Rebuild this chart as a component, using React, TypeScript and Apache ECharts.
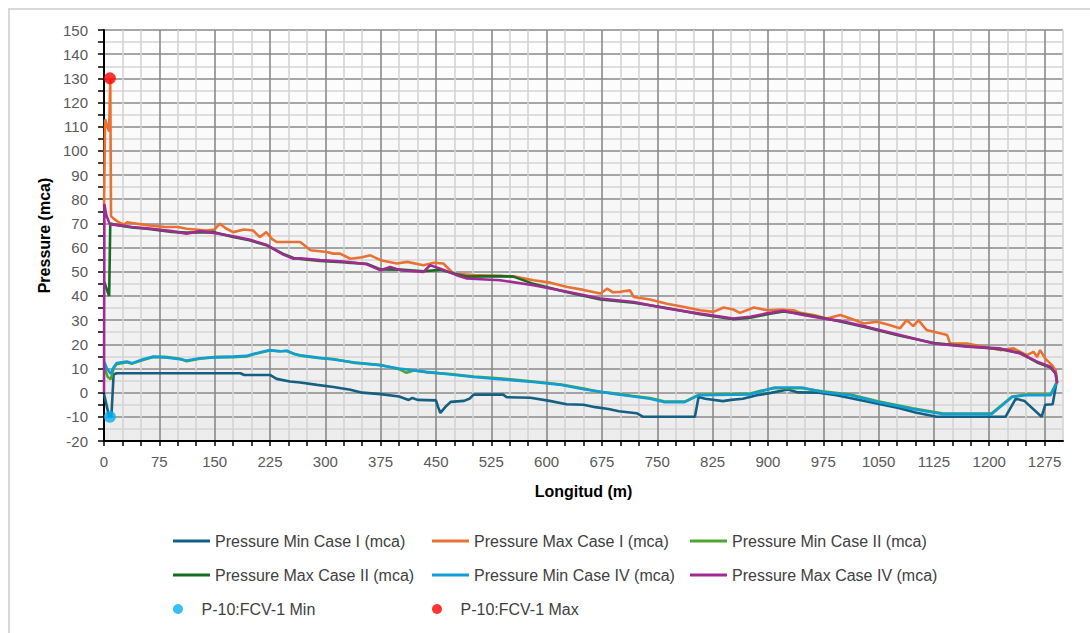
import React, { useEffect, useRef } from "react";
import * as echarts from "echarts";

// ---- Data (x = Longitud m, y = Pressure mca) ----
const minCaseI: number[][] = [
  [0, -0.5], [7, -10], [10, -10], [13, 7.5], [17, 8], [60, 8], [120, 8], [185, 8], [190, 7.3], [225, 7.3],
  [234, 5.7], [252, 4.6], [266, 4.2], [289, 3.2], [311, 2.3], [334, 1.2], [350, 0], [375, -0.6], [400, -1.6],
  [413, -3], [418, -2.2], [425, -3], [450, -3.2], [453, -6], [456, -8.4], [464, -5.5], [470, -3.8], [488, -3.4],
  [496, -2.4], [501, -0.8], [541, -0.8], [546, -1.9], [578, -2.1], [604, -3.4], [627, -4.8], [650, -5],
  [666, -6], [684, -6.8], [698, -7.7], [722, -8.5], [725, -9], [731, -10], [801, -10], [806, -1.8], [815, -2.5],
  [839, -3.5], [850, -3], [866, -2.5], [885, -1.1], [904, -0.1], [927, 1.3], [941, 0.1], [969, 0], [993, -1.1],
  [1016, -2.5], [1054, -4.9], [1077, -6.3], [1100, -8.2], [1129, -10], [1222, -10], [1236, -2.5], [1248, -3.5],
  [1271, -10], [1276, -5], [1286, -4.8], [1291, 4],
];

const maxCaseI: number[][] = [
  [0, 77], [1.5, 113], [7, 108], [8.5, 130], [9.5, 73], [13, 72], [20, 70.5], [27, 69.5], [32, 70.5], [38, 70.2],
  [61, 69.2], [83, 68.5], [100, 68.5], [112, 67.8], [139, 67.1], [150, 67.5], [157, 69.9], [165, 68], [175, 66.4],
  [190, 67.5], [202, 67.1], [211, 64.3], [220, 66.4], [228, 63.5], [234, 62.3], [266, 62.3], [280, 58.9],
  [302, 58.2], [311, 57.5], [320, 57.5], [334, 55.4], [350, 56], [361, 56.8], [375, 54.8], [397, 53.4],
  [411, 54.1], [433, 52.7], [447, 53.7], [460, 53.4], [474, 49.2], [501, 48.6], [555, 48.1], [582, 46.5],
  [605, 45.5], [628, 43.7], [650, 42.5], [673, 41], [682, 43], [690, 41.5], [700, 41.7], [713, 42.3], [718, 39.6],
  [740, 38.5], [763, 36.8], [785, 35.5], [808, 34.1], [826, 33.4], [840, 35.2], [853, 34.4], [862, 33],
  [881, 35.2], [899, 34.1], [917, 34.4], [935, 34.1], [944, 33], [962, 32.1], [980, 30.7], [998, 32.1],
  [1012, 30.7], [1030, 28.6], [1048, 29.3], [1061, 28.3], [1079, 26.6], [1088, 30], [1097, 27.5], [1104, 30],
  [1115, 25.9], [1143, 23.8], [1147, 20.3], [1170, 20.3], [1192, 19], [1215, 17.6], [1233, 18.3], [1251, 15.5],
  [1260, 16.9], [1265, 14.8], [1269, 17.6], [1276, 14.1], [1285, 11.4], [1290, 9.3], [1292, 4.5],
];

const minCaseII: number[][] = [
  [0, 11], [5, 6.5], [9, 5.5], [13, 10], [17, 11.8], [31, 12.6], [38, 12], [53, 13.5], [67, 14.7], [83, 14.8],
  [103, 14], [112, 13], [130, 14], [152, 14.8], [175, 14.7], [193, 15], [202, 15.8], [216, 16.8], [225, 17.4],
  [238, 17.2], [248, 17.1], [257, 16.2], [266, 15.3], [290, 14.3], [311, 13.9], [340, 12.3], [374, 11.5],
  [400, 9.7], [410, 8.2], [420, 9.2], [437, 8.4], [470, 7.7], [501, 6.7], [540, 5.8], [582, 4.6], [620, 3.4],
  [652, 1.6], [672, 0.3], [689, -0.2], [715, -1.3], [740, -2.2], [759, -3.6], [787, -3.7], [806, -0.9],
  [876, -0.4], [890, 0.8], [909, 1.8], [946, 1.8], [974, 0.6], [1012, -0.8], [1049, -3.6], [1096, -6.5],
  [1138, -8.6], [1203, -8.6], [1231, -1.6], [1250, -0.8], [1283, -0.8], [1291, 4],
];

const maxCaseII: number[][] = [
  [0, 46], [7, 40], [8.5, 70], [20, 69.1], [38, 68.3], [61, 67.7], [92, 66.5], [112, 66.2], [130, 66.3],
  [148, 66.4], [175, 64.4], [197, 63], [220, 61], [243, 57.4], [257, 55.7], [266, 55.3], [293, 54.5],
  [329, 53.8], [356, 53.3], [375, 51], [402, 50.9], [433, 50.2], [456, 50.8], [478, 49], [492, 48], [537, 48.2],
  [555, 48], [582, 45], [628, 41.5], [673, 38.5], [718, 37.2], [763, 35], [808, 32.4], [853, 30.4], [876, 31],
  [899, 32.4], [921, 33.6], [944, 32.6], [975, 30.9], [998, 29.4], [1034, 27], [1079, 23.5], [1125, 20.5],
  [1170, 19.2], [1215, 18], [1242, 16.4], [1265, 12.5], [1283, 10.4], [1290, 7.8], [1292, 4],
];

const minCaseIV: number[][] = [
  [0, 13], [4, 10], [9, 7.8], [13, 10.5], [17, 12.2], [31, 12.9], [38, 12.2], [53, 13.8], [67, 14.9], [83, 14.6],
  [103, 13.8], [112, 13.3], [130, 14.2], [152, 14.6], [175, 14.9], [193, 15.2], [202, 16], [216, 17], [225, 17.6],
  [238, 17], [248, 17.4], [257, 16], [266, 15.5], [290, 14.5], [311, 13.7], [340, 12.5], [374, 11.3], [400, 10],
  [437, 8.6], [470, 7.5], [501, 6.5], [540, 5.5], [582, 4.4], [620, 3.2], [652, 1.3], [672, 0.5], [689, -0.4],
  [715, -1.5], [740, -2.5], [759, -3.9], [787, -3.9], [806, -1.1], [876, -0.7], [890, 0.5], [909, 2.1],
  [946, 2.1], [974, 0.3], [1012, -1.1], [1049, -3.9], [1096, -6.8], [1138, -8.9], [1203, -8.9], [1231, -1.8],
  [1250, -1.1], [1283, -1.1], [1291, 3.8],
];

const maxCaseIV: number[][] = [
  [0, 0], [0.5, 78], [3, 73.5], [8, 69.6], [20, 69.3], [38, 68.5], [61, 67.9], [92, 66.8], [112, 65.7],
  [130, 66.8], [148, 66.1], [175, 64.7], [197, 63.3], [220, 61.2], [243, 57.1], [257, 55.4], [266, 55.6],
  [293, 54.8], [329, 54.1], [356, 53.1], [375, 50.6], [388, 52], [402, 50.6], [433, 49.9], [442, 52.7],
  [456, 51.3], [478, 48.6], [492, 47.2], [537, 46.5], [582, 44.4], [628, 41.7], [673, 38.9], [718, 37.5],
  [763, 34.8], [808, 32.7], [853, 30.7], [876, 31.4], [899, 32.8], [921, 33.9], [944, 32.3], [975, 30.7],
  [998, 29.7], [1034, 27.2], [1079, 23.8], [1125, 20.3], [1170, 19], [1215, 18.3], [1242, 16.2], [1265, 12.8],
  [1283, 10.7], [1290, 8], [1292, 3.8],
];

const fcvMin: number[][] = [[8, -10]];
const fcvMax: number[][] = [[8, 130]];

const seriesNames = [
  "Pressure Min Case I (mca)",
  "Pressure Max Case I (mca)",
  "Pressure Min Case II (mca)",
  "Pressure Max Case II (mca)",
  "Pressure Min Case IV (mca)",
  "Pressure Max Case IV (mca)",
  "P-10:FCV-1 Min",
  "P-10:FCV-1 Max",
];
const seriesColors = ["#156082", "#E97132", "#4EA72E", "#196B24", "#0F9ED5", "#A02B93", "#00B0F0", "#FF0000"];

const X_MIN = 0, X_MAX = 1300, X_STEP = 25, X_LABEL_STEP = 75;
const Y_MIN = -20, Y_MAX = 150, Y_STEP = 5, Y_LABEL_STEP = 10;

export default function App() {
  const ref = useRef<HTMLDivElement>(null);

  useEffect(() => {
    if (!ref.current) return;
    const chart = echarts.init(ref.current, null, { renderer: "svg" });
    const font = "'Liberation Sans', Arial, sans-serif";
    const lineData = [minCaseI, maxCaseI, minCaseII, maxCaseII, minCaseIV, maxCaseIV];

    const legendPos: { left: number; top: number }[] = [
      { left: 173, top: 533 }, { left: 432, top: 533 }, { left: 690, top: 533 },
      { left: 173, top: 567 }, { left: 432, top: 567 }, { left: 690, top: 567 },
      { left: 173, top: 601 }, { left: 432, top: 601 },
    ];

    const option: any = {
      animation: false,
      backgroundColor: "#ffffff",
      textStyle: { fontFamily: font },
      graphic: [
        {
          type: "rect",
          silent: true,
          z: -10,
          shape: { x: 9, y: 9, width: 1300, height: 800 },
          style: { fill: "none", stroke: "#d9d9d9", lineWidth: 2 },
        },
      ],
      grid: {
        left: 104,
        top: 30,
        right: 27,
        bottom: 192,
        show: true,
        borderWidth: 0,
        outerBoundsMode: "none",
        backgroundColor: new echarts.graphic.LinearGradient(0, 0, 0, 1, [
          { offset: 0, color: "#ffffff" },
          { offset: 1, color: "#ececec" },
        ]),
      },
      legend: seriesNames.map((n, i) => ({
        data: [n],
        left: legendPos[i].left,
        top: legendPos[i].top,
        itemWidth: 37,
        itemHeight: i >= 6 ? 10 : 3,
        icon: i >= 6 ? "circle" : "rect",
        selectedMode: false,
        padding: 0,
        textStyle: { fontSize: 16, color: "#404040", fontFamily: font },
      })),
      xAxis: {
        type: "value",
        min: X_MIN,
        max: X_MAX,
        interval: X_STEP,
        name: "Longitud (m)",
        nameLocation: "middle",
        nameGap: 42,
        nameTextStyle: { fontSize: 16, fontWeight: "bold", color: "#000000", fontFamily: font },
        axisLine: { show: true, onZero: false, lineStyle: { color: "#000000", width: 2 } },
        axisTick: { show: true, length: 5, lineStyle: { color: "#000000", width: 1.5 } },
        axisLabel: {
          show: true,
          margin: 13,
          fontSize: 15,
          color: "#595959",
          fontFamily: font,
          showMaxLabel: false,
          formatter: (v: number) => (v % X_LABEL_STEP === 0 ? String(v) : ""),
        },
        splitLine: {
          show: true,
          lineStyle: { color: ["#8a8a8a", "#d4d4d4", "#d4d4d4"], width: 1.6 },
        },
      },
      yAxis: {
        type: "value",
        min: Y_MIN,
        max: Y_MAX,
        interval: Y_STEP,
        name: "Pressure (mca)",
        nameLocation: "middle",
        nameGap: 52,
        nameRotate: 90,
        nameTextStyle: { fontSize: 16, fontWeight: "bold", color: "#000000", fontFamily: font },
        axisLine: { show: true, onZero: false, lineStyle: { color: "#000000", width: 2 } },
        axisTick: { show: true, length: 6, lineStyle: { color: "#000000", width: 1.5 } },
        axisLabel: {
          show: true,
          margin: 16,
          fontSize: 15,
          color: "#595959",
          fontFamily: font,
          formatter: (v: number) => (v % Y_LABEL_STEP === 0 ? String(v) : ""),
        },
        splitLine: {
          show: true,
          lineStyle: { color: ["#8a8a8a", "#d4d4d4"], width: 1.6 },
        },
      },
      series: [
        ...lineData.map((d, i) => ({
          name: seriesNames[i],
          type: "line",
          data: d,
          symbol: "none",
          showSymbol: false,
          color: seriesColors[i],
          itemStyle: { color: seriesColors[i] },
          lineStyle: { color: seriesColors[i], width: 2.6 },
          z: 2 + i,
        })),
        {
          name: seriesNames[6],
          type: "scatter",
          data: fcvMin,
          symbol: "circle",
          symbolSize: 12,
          itemStyle: { color: seriesColors[6] },
          z: 10,
        },
        {
          name: seriesNames[7],
          type: "scatter",
          data: fcvMax,
          symbol: "circle",
          symbolSize: 12,
          itemStyle: { color: seriesColors[7] },
          z: 10,
        },
      ],
    };

    chart.setOption(option);
    return () => chart.dispose();
  }, []);

  return (
    <div
      ref={ref}
      style={{ position: "fixed", left: 0, top: 0, width: 1090, height: 633 }}
    />
  );
}
